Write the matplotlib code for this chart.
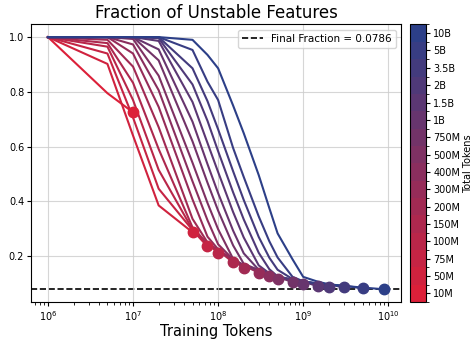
import numpy as np
import matplotlib
matplotlib.use("Agg")
import matplotlib.pyplot as plt
from matplotlib.colors import LinearSegmentedColormap, BoundaryNorm
from matplotlib.cm import ScalarMappable

# checkpoints (tokens seen) at which the unstable fraction was measured
steps = [1e6, 5e6, 1e7, 2e7, 5e7, 7.5e7, 1e8, 1.5e8, 2e8, 3e8, 4e8, 5e8,
         7.5e8, 1e9, 1.5e9, 2e9, 3e9, 5e9, 9e9]

budget_labels = ["10M", "50M", "75M", "100M", "150M", "200M", "300M", "400M",
                 "500M", "750M", "1B", "1.5B", "2B", "3.5B", "5B", "10B"]

# fraction of unstable features per run, one entry per checkpoint up to the run's end
frac_10M = [1.0, 0.795, 0.725]
frac_50M = [1.0, 0.902, 0.64, 0.385, 0.287]
frac_75M = [1.0, 0.94, 0.706, 0.446, 0.295, 0.235]
frac_100M = [1.0, 0.965, 0.77, 0.515, 0.297, 0.243, 0.213]
frac_150M = [1.0, 0.978, 0.833, 0.591, 0.305, 0.245, 0.221, 0.177]
frac_200M = [1.0, 0.99, 0.892, 0.671, 0.336, 0.25, 0.222, 0.185, 0.157]
frac_300M = [1.0, 1.0, 0.94, 0.745, 0.407, 0.271, 0.225, 0.186, 0.166, 0.139]
frac_400M = [1.0, 1.0, 0.973, 0.806, 0.473, 0.331, 0.243, 0.188, 0.166, 0.147,
             0.127]
frac_500M = [1.0, 1.0, 0.993, 0.859, 0.541, 0.394, 0.298, 0.19, 0.167, 0.148,
             0.134, 0.116]
frac_750M = [1.0, 1.0, 1.0, 0.915, 0.619, 0.468, 0.366, 0.239, 0.172, 0.149,
             0.135, 0.124, 0.105]
frac_1B = [1.0, 1.0, 1.0, 0.955, 0.691, 0.536, 0.43, 0.293, 0.21, 0.15, 0.135,
           0.124, 0.113, 0.098]
frac_1_5B = [1.0, 1.0, 1.0, 0.986, 0.763, 0.613, 0.507, 0.361, 0.268, 0.166,
             0.137, 0.125, 0.113, 0.106, 0.090]
frac_2B = [1.0, 1.0, 1.0, 0.996, 0.827, 0.694, 0.583, 0.433, 0.334, 0.212,
           0.152, 0.126, 0.114, 0.106, 0.099, 0.088]
frac_3_5B = [1.0, 1.0, 1.0, 1.0, 0.886, 0.766, 0.663, 0.51, 0.405, 0.27, 0.194,
             0.15, 0.116, 0.107, 0.099, 0.096, 0.086]
frac_5B = [1.0, 1.0, 1.0, 1.0, 0.953, 0.837, 0.77, 0.595, 0.489, 0.345, 0.254,
           0.195, 0.124, 0.108, 0.1, 0.096, 0.092, 0.082]
frac_10B = [1.0, 1.0, 1.0, 1.0, 0.99, 0.935, 0.886, 0.75, 0.649, 0.496, 0.375,
            0.283, 0.188, 0.124, 0.106, 0.097, 0.091, 0.085, 0.0786]

runs = [frac_10M, frac_50M, frac_75M, frac_100M, frac_150M, frac_200M,
        frac_300M, frac_400M, frac_500M, frac_750M, frac_1B, frac_1_5B,
        frac_2B, frac_3_5B, frac_5B, frac_10B]

final_fraction = 0.0786

n = len(runs)
base = LinearSegmentedColormap.from_list("tokens", ["#dc2039", "#2c3f88"])
colors = [base(i / (n - 1)) for i in range(n)]

fig = plt.figure(figsize=(4.72, 3.40), dpi=100)
ax = fig.add_axes([0.066, 0.112, 0.784, 0.816])
cax = fig.add_axes([0.869, 0.112, 0.034, 0.816])

for vals, c in zip(runs, colors):
    x = steps[:len(vals)]
    ax.plot(x, vals, color=c, lw=1.5, zorder=2)
    ax.plot(x[-1], vals[-1], "o", color=c, ms=7.5, zorder=3)

ax.axhline(final_fraction, color="black", ls="--", lw=1.2,
           label=f"Final Fraction = {final_fraction}", zorder=1)

ax.set_xscale("log")
ax.set_title("Fraction of Unstable Features", fontsize=12, pad=5)
ax.set_xlabel("Training Tokens", fontsize=10.5, labelpad=1)
ax.tick_params(which="major", labelsize=7, length=3, pad=2)
ax.tick_params(which="minor", length=1.8)
ax.set_yticks([0.2, 0.4, 0.6, 0.8, 1.0])
ax.grid(True, color="#cccccc", lw=0.8, alpha=0.8)
ax.legend(loc="upper right", fontsize=7.5)

# discrete colour bar, one band per run
cmap_d = LinearSegmentedColormap.from_list("tokens_d", colors, N=n)
norm = BoundaryNorm(np.arange(n + 1), n)
sm = ScalarMappable(norm=norm, cmap=cmap_d)
cb = fig.colorbar(sm, cax=cax, ticks=np.arange(n) + 0.5)
cb.ax.set_yticklabels(budget_labels)
cb.ax.tick_params(labelsize=7, length=3, pad=2)
cb.set_label("Total Tokens", fontsize=7, labelpad=2)

fig.savefig("out.png", dpi=100)
